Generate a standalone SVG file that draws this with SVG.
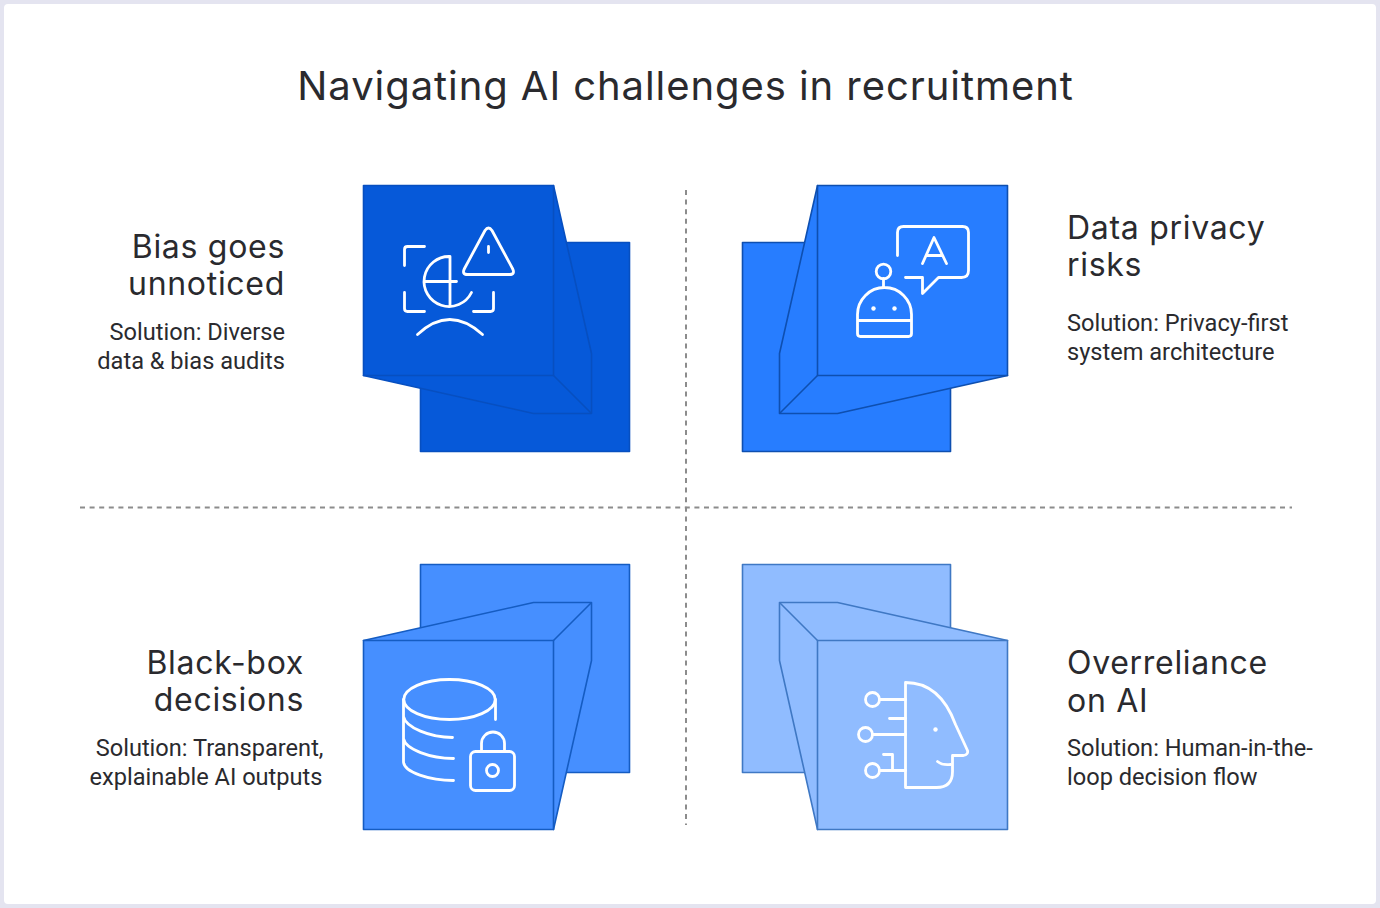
<svg xmlns="http://www.w3.org/2000/svg" width="1380" height="908" viewBox="0 0 1380 908">
<style>
.t{font-family:Inter,"Open Sans",sans-serif;fill:#2a2a2e;font-size:40px;letter-spacing:.93px}
.h{font-family:Inter,"Open Sans",sans-serif;fill:#2a2a2e;font-size:32px;letter-spacing:.7px}
.s{font-family:Roboto,"Liberation Sans",sans-serif;fill:#2a2a2e;font-size:23.6px}
.e{text-anchor:end}
.g{fill:none;stroke:#fff;stroke-width:2.800;stroke-linecap:round;stroke-linejoin:round}
.d{fill:#fff;stroke:none}
.dash{stroke:#8c8c8c;stroke-width:2;stroke-dasharray:5 4.6;fill:none}
.c1 *{fill:#0659d9;stroke:#074fc0;stroke-width:1.6;stroke-linejoin:round}
.c2 *{fill:#277dff;stroke:#0e4fb0;stroke-width:1.6;stroke-linejoin:round}
.c3 *{fill:#468fff;stroke:#155cc2;stroke-width:1.6;stroke-linejoin:round}
.c4 *{fill:#90bcff;stroke:#3f78c4;stroke-width:1.6;stroke-linejoin:round}
</style>
<rect width="1380" height="908" fill="#e4e4f0"/>
<rect x="4" y="4" width="1372" height="900" rx="4" fill="#fff"/>
<text class="t" x="685.500" y="99.500" text-anchor="middle">Navigating AI challenges in recruitment</text>
<g id="connectors">
<path class="dash" d="M80 507.500H1292"/>
<path class="dash" d="M686 190V825"/>
</g>
<g id="node-bias">
<g class="c1" transform="translate(.5 .5)">
<rect x="420" y="242" width="209" height="209"/>
<path d="M553 185L591 353V413H533L363 375Z"/>
<path d="M553 375L591 413"/>
<rect x="363" y="185" width="190" height="190"/>
</g>
<g class="g" transform="translate(.5 .5)">
<path d="M424 246H407Q404 246 404 249V265M404 292V308Q404 311 407 311H424M473 311H490Q493 311 493 308V292"/>
<path d="M449.500 256A25 25 0 1 0 471 292M449.500 256V306M424 281H456"/>
<path d="M417 334Q449 304 482 334"/>
<path d="M484.500 230Q488 225 491.500 230L512 268Q515 274 509 274H467Q461 274 464 268ZM488 246V252"/>
</g>
<text class="h e" x="285" y="257.500">Bias goes</text>
<text class="h e" x="285" y="294.500">unnoticed</text>
<text class="s e" x="285" y="340">Solution: Diverse</text>
<text class="s e" x="285" y="369">data &amp; bias audits</text>
</g>
<g id="node-privacy">
<g class="c2" transform="translate(.5 .5)">
<rect x="742" y="242" width="208" height="209"/>
<path d="M817 185L779 353V413H837L1007 375Z"/>
<path d="M817 375L779 413"/>
<rect x="817" y="185" width="190" height="190"/>
</g>
<g class="g" transform="translate(.5 .5)">
<path d="M897 255V232Q897 226 903 226H962Q968 226 968 232V270Q968 277 961 277H938L922 293V277H905"/>
<path d="M922 263L933.500 237L946 263M926 255H942"/>
<circle cx="883" cy="271" r="7.300"/>
<path d="M883 278V287M857 320V314A27 27 0 0 1 911 314V333Q911 336 908 336H860Q857 336 857 333V320H911"/>
<circle class="d" cx="873" cy="308" r="2.200"/>
<circle class="d" cx="894" cy="308" r="2.200"/>
</g>
<text class="h" x="1067" y="238.500">Data privacy</text>
<text class="h" x="1067" y="275.500">risks</text>
<text class="s" x="1067" y="331">Solution: Privacy-first</text>
<text class="s" x="1067" y="360">system architecture</text>
</g>
<g id="node-blackbox">
<g class="c3" transform="translate(.5 .5)">
<rect x="420" y="564" width="209" height="208"/>
<path d="M363 640L533 602H591V660L553 829Z"/>
<path d="M553 640L591 602"/>
<rect x="363" y="640" width="190" height="189"/>
</g>
<g class="g" transform="translate(.5 .5)">
<ellipse cx="449" cy="699" rx="45.700" ry="20"/>
<path d="M495 699V719M403 699V761C403 772 430 780 453 780M403 716C405 727 430 737 452 737M403 738C405 749 430 758 453 758"/>
<rect x="470" y="751" width="44" height="39" rx="5"/>
<path d="M481 751V743A11 11 0 0 1 504 743V751"/>
<circle cx="492" cy="770" r="6"/>
</g>
<text class="h e" x="304" y="673.500">Black-box</text>
<text class="h e" x="304" y="710.500">decisions</text>
<text class="s e" x="323.500" y="756">Solution: Transparent,</text>
<text class="s e" x="322.500" y="785">explainable AI outputs</text>
</g>
<g id="node-overreliance">
<g class="c4" transform="translate(.5 .5)">
<rect x="742" y="564" width="208" height="208"/>
<path d="M1007 640L837 602H779V660L817 829Z"/>
<path d="M817 640L779 602"/>
<rect x="817" y="640" width="190" height="189"/>
</g>
<g class="g" transform="translate(.5 .5)">
<path d="M905 682V787H936Q952 787 952 771V755H963Q968 754 967 750L955 724C948 705 934 682 905 682Z"/>
<path d="M937 761Q942 765 950 764"/>
<circle cx="872" cy="699" r="7"/>
<circle cx="865" cy="734" r="7"/>
<circle cx="872" cy="770" r="7"/>
<path d="M879 699H905M889 718H905M872 734H905M879 770H905M883 754H892V770"/>
<circle class="d" cx="935" cy="729" r="2.200"/>
</g>
<text class="h" x="1067" y="673.500">Overreliance</text>
<text class="h" x="1067" y="711.500">on AI</text>
<text class="s" x="1067" y="756">Solution: Human-in-the-</text>
<text class="s" x="1067" y="785">loop decision flow</text>
</g>
</svg>
